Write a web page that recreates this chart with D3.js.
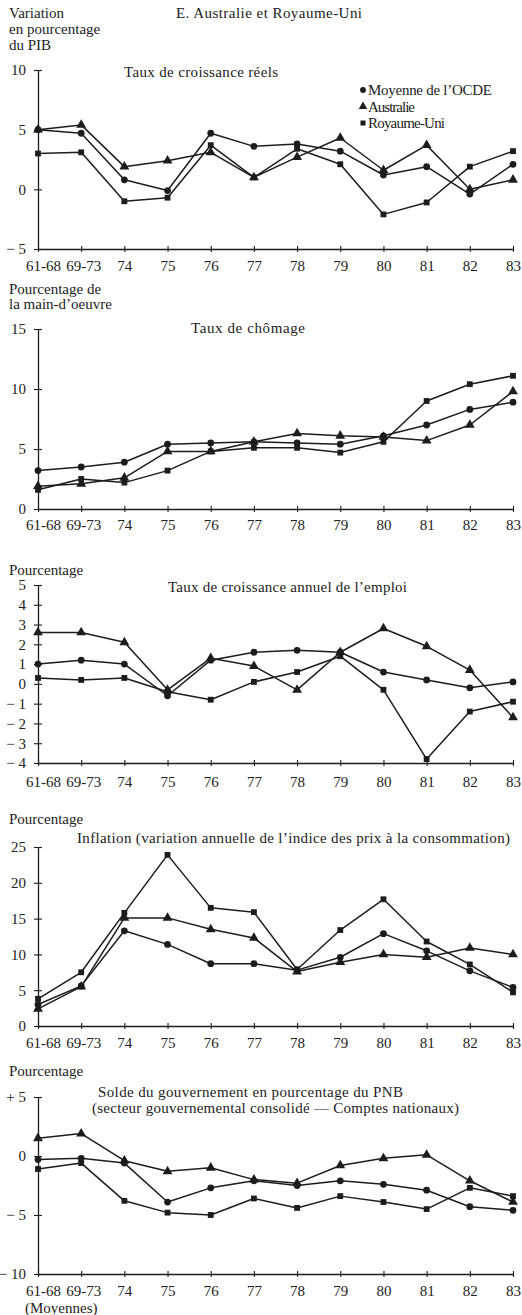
<!DOCTYPE html>
<html>
<head>
<meta charset="utf-8">
<script src="https://cdn.jsdelivr.net/npm/d3@7"></script>
<style>
  html, body { margin: 0; padding: 0; background: #fff; }
  svg { display: block; }
  text { font-family: "Liberation Serif", "Times New Roman", serif; fill: #222; }
</style>
</head>
<body>
<svg id="chart" width="522" height="1315"></svg>
<script>
// Périodes (moyennes puis années)
const periods = ["61-68", "69-73", "74", "75", "76", "77", "78", "79", "80", "81", "82", "83"];
const seriesNames = ["Moyenne de l’OCDE", "Australie", "Royaume-Uni"];

// Taux de croissance réels (variation en % du PIB)
const croissanceOcde       = [5.0, 4.7, 0.8, -0.1, 4.7, 3.6, 3.8, 3.2, 1.2, 1.9, -0.4, 2.1];
const croissanceAustralie  = [5.0, 5.4, 1.9, 2.4, 3.1, 1.0, 2.7, 4.3, 1.6, 3.7, 0.0, 0.8];
const croissanceRoyaumeUni = [3.0, 3.1, -1.0, -0.7, 3.7, 1.0, 3.4, 2.1, -2.1, -1.1, 1.9, 3.2];

// Taux de chômage (% de la main-d'oeuvre)
const chomageOcde       = [3.2, 3.5, 3.9, 5.4, 5.5, 5.6, 5.5, 5.4, 6.1, 7.0, 8.3, 8.9];
const chomageAustralie  = [1.9, 2.1, 2.6, 4.8, 4.8, 5.6, 6.3, 6.1, 6.0, 5.7, 7.0, 9.8];
const chomageRoyaumeUni = [1.6, 2.5, 2.2, 3.2, 4.8, 5.1, 5.1, 4.7, 5.6, 9.0, 10.4, 11.1];

// Taux de croissance annuel de l'emploi (%)
const emploiOcde       = [1.0, 1.2, 1.0, -0.6, 1.2, 1.6, 1.7, 1.6, 0.6, 0.2, -0.2, 0.1];
const emploiAustralie  = [2.6, 2.6, 2.1, -0.3, 1.3, 0.9, -0.3, 1.6, 2.8, 1.9, 0.7, -1.7];
const emploiRoyaumeUni = [0.3, 0.2, 0.3, -0.4, -0.8, 0.1, 0.6, 1.4, -0.3, -3.8, -1.4, -0.9];

// Inflation (variation annuelle de l'indice des prix à la consommation, %)
const inflationOcde       = [3.0, 5.6, 13.3, 11.4, 8.7, 8.7, 7.8, 9.6, 12.9, 10.5, 7.7, 5.4];
const inflationAustralie  = [2.4, 5.5, 15.1, 15.1, 13.5, 12.3, 7.6, 8.9, 10.0, 9.6, 10.9, 10.0];
const inflationRoyaumeUni = [3.8, 7.5, 15.8, 23.9, 16.5, 15.9, 7.9, 13.4, 17.7, 11.8, 8.6, 4.7];

// Solde du gouvernement en % du PNB
const soldeOcde       = [-0.3, -0.2, -0.6, -3.9, -2.7, -2.1, -2.5, -2.1, -2.4, -2.9, -4.3, -4.6];
const soldeAustralie  = [1.5, 1.9, -0.4, -1.3, -1.0, -2.0, -2.3, -0.8, -0.2, 0.1, -2.1, -3.9];
const soldeRoyaumeUni = [-1.1, -0.6, -3.8, -4.8, -5.0, -3.6, -4.4, -3.4, -3.9, -4.5, -2.7, -3.4];

// Graduations des axes verticaux
const ticksCroissance = [-5, 0, 5, 10];
const ticksChomage    = [0, 5, 10, 15];
const ticksEmploi     = [-4, -3, -2, -1, 0, 1, 2, 3, 4, 5];
const ticksInflation  = [0, 5, 10, 15, 20, 25];
const ticksSolde      = [-10, -5, 0, 5];

const svg = d3.select("#chart");
const ink = "#1c1c1c";
const x = d3.scalePoint().domain(periods).range([38, 513]);

const symbols = [d3.symbolCircle, d3.symbolTriangle, d3.symbolSquare];
const symbolSizes = [36, 42, 34];

const panels = [
  { unit: ["Variation", "en pourcentage", "du PIB"], unitY: 18, unitGap: 16,
    title: ["Taux de croissance réels"], titleX: [124], titleW: [154], titleY: 77,
    domain: [-5, 10], range: [249, 70], ticks: ticksCroissance, plus: false,
    series: [croissanceOcde, croissanceAustralie, croissanceRoyaumeUni], labelY: 271, legend: true },
  { unit: ["Pourcentage de", "la main-d’oeuvre"], unitY: 294, unitGap: 15,
    title: ["Taux de chômage"], titleX: [191], titleW: [114], titleY: 333,
    domain: [0, 15], range: [509, 329], ticks: ticksChomage, plus: false,
    series: [chomageOcde, chomageAustralie, chomageRoyaumeUni], labelY: 530 },
  { unit: ["Pourcentage"], unitY: 575, unitGap: 0,
    title: ["Taux de croissance annuel de l’emploi"], titleX: [168], titleW: [239], titleY: 592,
    domain: [-4, 5], range: [763, 585], ticks: ticksEmploi, plus: false,
    series: [emploiOcde, emploiAustralie, emploiRoyaumeUni], labelY: 787 },
  { unit: ["Pourcentage"], unitY: 824, unitGap: 0,
    title: ["Inflation (variation annuelle de l’indice des prix à la consommation)"], titleX: [77], titleW: [433], titleY: 843,
    domain: [0, 25], range: [1026, 847], ticks: ticksInflation, plus: false,
    series: [inflationOcde, inflationAustralie, inflationRoyaumeUni], labelY: 1048 },
  { unit: ["Pourcentage"], unitY: 1076, unitGap: 0,
    title: ["Solde du gouvernement en pourcentage du PNB",
            "(secteur gouvernemental consolidé — Comptes nationaux)"], titleX: [98, 92], titleW: [305, 367], titleY: 1097,
    domain: [-10, 5], range: [1274, 1097], ticks: ticksSolde, plus: true,
    series: [soldeOcde, soldeAustralie, soldeRoyaumeUni], labelY: 1296, footnote: "(Moyennes)" }
];

// Titre général
svg.append("text").attr("x", 176).attr("y", 18)
  .attr("textLength", 186).attr("lengthAdjust", "spacing")
  .style("font-size", "15px").text("E. Australie et Royaume-Uni");

function fmt(v, plus) {
  if (v < 0) return "− " + (-v);
  if (v > 0 && plus) return "+ " + v;
  return String(v);
}

panels.forEach(p => {
  const g = svg.append("g");
  const y = d3.scaleLinear().domain(p.domain).range(p.range);
  const base = y(p.domain[0]);

  // Unité de l'axe vertical
  p.unit.forEach((t, i) => {
    g.append("text").attr("x", 9).attr("y", p.unitY + i * p.unitGap)
      .style("font-size", "15px").text(t);
  });
  // Sous-titre du graphique
  p.title.forEach((t, i) => {
    g.append("text").attr("x", p.titleX[i]).attr("y", p.titleY + i * 16)
      .attr("textLength", p.titleW[i]).attr("lengthAdjust", "spacing")
      .style("font-size", "15px").text(t);
  });

  // Axe vertical : graduations traversant l'axe
  const yAxis = g.append("g").attr("transform", `translate(${x(periods[0])},0)`)
    .call(d3.axisLeft(y).tickValues(p.ticks).tickSizeInner(4).tickSizeOuter(0)
      .tickPadding(8).tickFormat(v => fmt(v, p.plus)));
  yAxis.selectAll(".tick line").attr("x1", 4).attr("stroke", ink).attr("stroke-width", 1.1);
  yAxis.select(".domain").attr("stroke", ink).attr("stroke-width", 1.3);
  yAxis.selectAll(".tick text").attr("fill", "#222")
    .style("font-family", "\"Liberation Serif\", serif").style("font-size", "15px");

  // Axe horizontal
  const xAxis = g.append("g").attr("transform", `translate(0,${base})`)
    .call(d3.axisBottom(x).tickSizeInner(3).tickSizeOuter(0));
  xAxis.selectAll(".tick line").attr("y1", -3).attr("stroke", ink).attr("stroke-width", 1.1);
  xAxis.select(".domain").attr("stroke", ink).attr("stroke-width", 1.3);
  xAxis.selectAll(".tick text").attr("fill", "#222").attr("y", p.labelY - base).attr("dy", 0)
    .attr("dx", (d, i) => i === 0 ? 5 : (i === 1 ? 2 : 0))
    .style("font-family", "\"Liberation Serif\", serif").style("font-size", "15px");

  if (p.footnote) {
    g.append("text").attr("x", 25).attr("y", p.labelY + 17)
      .style("font-size", "15px").text(p.footnote);
  }

  // Séries
  const line = d3.line().x((d, i) => x(periods[i])).y(d => y(d));
  p.series.forEach(vals => {
    g.append("path").datum(vals).attr("d", line)
      .attr("fill", "none").attr("stroke", ink).attr("stroke-width", 1.5)
      .attr("stroke-linejoin", "round");
  });
  p.series.forEach((vals, s) => {
    g.selectAll(null).data(vals).join("path")
      .attr("transform", (d, i) => `translate(${x(periods[i])},${y(d)})`)
      .attr("d", d3.symbol(symbols[s], symbolSizes[s]))
      .attr("fill", ink);
  });

  // Légende
  if (p.legend) {
    const lg = g.append("g");
    const widths = [124, 47, 77];
    seriesNames.forEach((name, s) => {
      const cy = 90 + s * 16.5;
      lg.append("path").attr("transform", `translate(363,${cy})`)
        .attr("d", d3.symbol(symbols[s], symbolSizes[s] * 0.75)).attr("fill", ink);
      lg.append("text").attr("x", 368).attr("y", cy + 5)
        .attr("textLength", widths[s]).attr("lengthAdjust", "spacing")
        .style("font-size", "15px").text(name);
    });
  }
});
</script>
</body>
</html>
